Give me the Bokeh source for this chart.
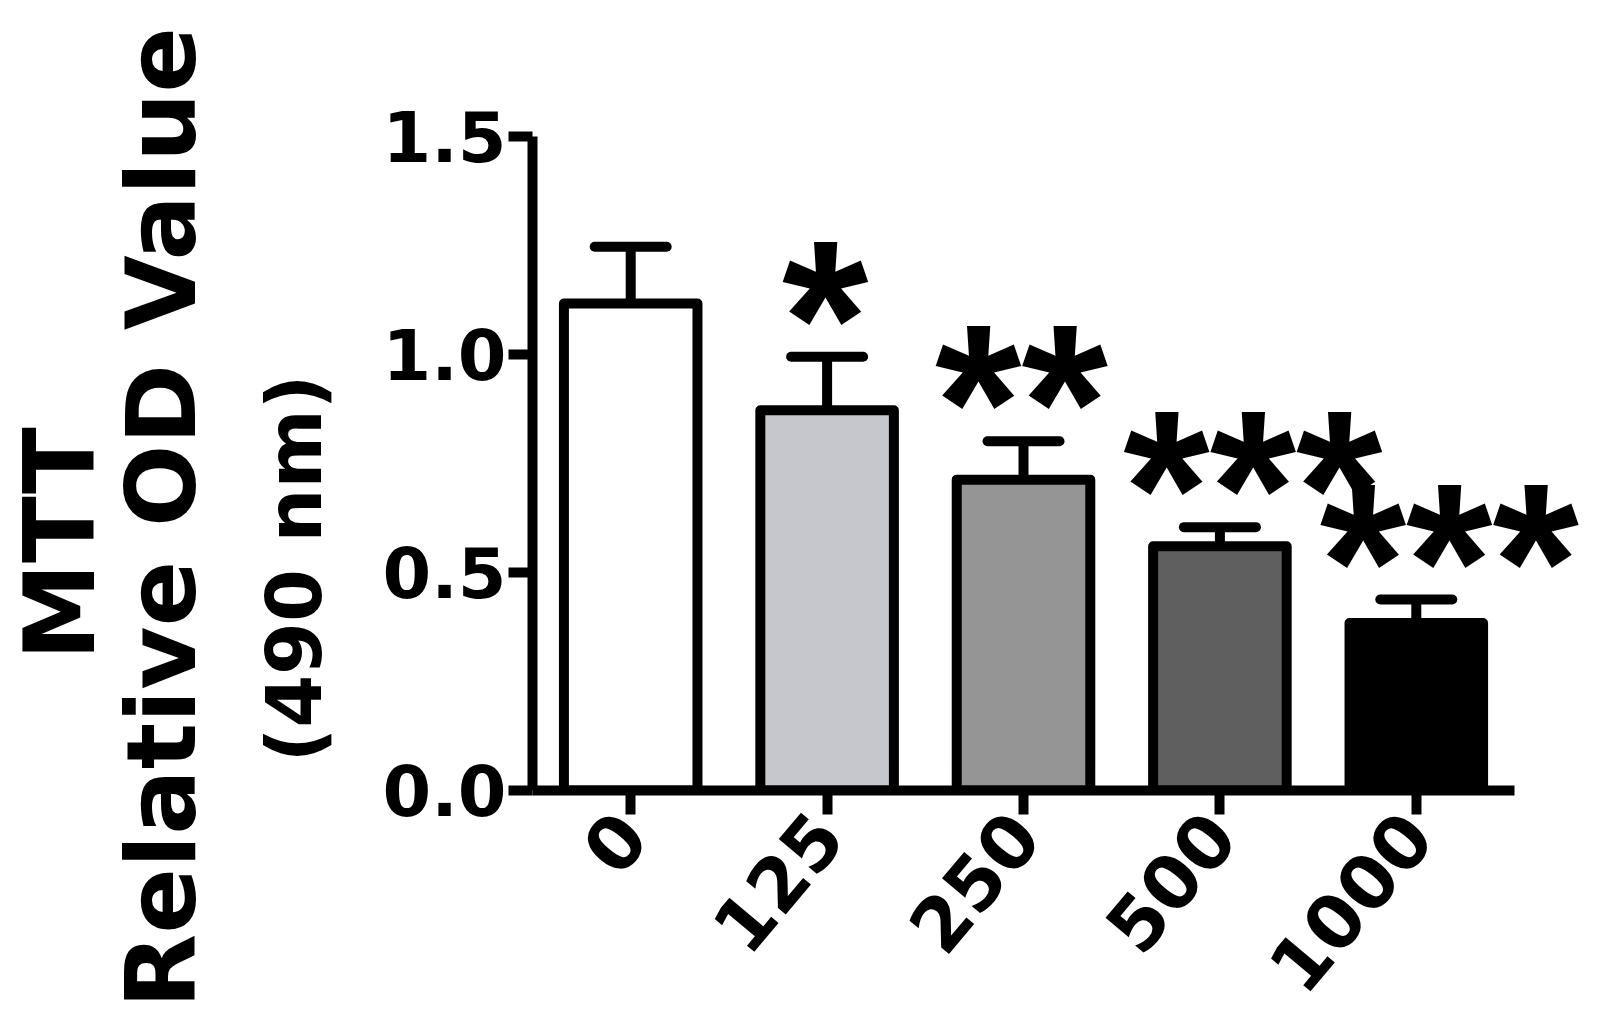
import math
from bokeh.plotting import figure
from bokeh.models import (ColumnDataSource, Range1d, FixedTicker, Title,
                          NumeralTickFormatter, Whisker, TeeHead, LabelSet)
from bokeh.core.properties import value
from bokeh.embed import file_html
from bokeh.resources import INLINE

# ---- data ----
doses = ["0", "125", "250", "500", "1000"]
od_mean = [1.117, 0.872, 0.713, 0.560, 0.384]
od_sd = [0.130, 0.123, 0.088, 0.044, 0.054]
significance = ["", "*", "**", "***", "***"]
bar_colors = ["#ffffff", "#c6c7cd", "#959595", "#5f5f5f", "#000000"]
y_ticks = [0.0, 0.5, 1.0, 1.5]
title_lines = ["MTT", "Relative OD Value", "(490 nm)"]

FONT = "DejaVu Sans"
STAR_FONT = "Liberation Sans"
LW = 10

pos = list(range(len(doses)))
upper = [m + s for m, s in zip(od_mean, od_sd)]
src = ColumnDataSource(dict(x=pos, mean=od_mean, upper=upper,
                            color=bar_colors, stars=significance))

FW, FH = 1064, 654
PX_PER_CAT = 196.4
p = figure(x_range=Range1d(-0.5, -0.5 + FW / PX_PER_CAT),
           y_range=Range1d(0, 1.5),
           frame_width=FW, frame_height=FH,
           output_backend="svg", toolbar_location=None,
           min_border_left=532, min_border_right=0,
           min_border_top=136, min_border_bottom=222)
p.outline_line_color = None
p.xgrid.visible = False
p.ygrid.visible = False
p.background_fill_color = "white"
p.border_fill_color = "white"

whisk = Whisker(source=src, base="x", lower="mean", upper="upper",
                dimension="height", line_color="black", line_width=LW,
                upper_head=TeeHead(size=72, line_color="black", line_width=LW,
                                   line_cap="round"),
                lower_head=None, level="underlay")
p.add_layout(whisk)

p.vbar(x="x", top="mean", width=0.68, source=src, fill_color="color",
       line_color="black", line_width=LW, line_join="round")

# significance stars
idx_a = [i for i, s in enumerate(significance) if 0 < len(s) < 3]
idx_b = [i for i, s in enumerate(significance) if len(s) >= 3]
for idx, dx in ((idx_a, -2), (idx_b, 33)):
    s2 = ColumnDataSource(dict(x=[pos[i] for i in idx],
                               upper=[upper[i] for i in idx],
                               stars=[significance[i] for i in idx]))
    p.add_layout(LabelSet(x="x", y="upper", text="stars", source=s2,
                          x_offset=dx, y_offset=-38,
                          text_align="center", text_baseline="alphabetic",
                          text_font=value(STAR_FONT), text_font_style="bold",
                          text_font_size=value("222px"), text_color="black"))

for ax in (p.xaxis[0], p.yaxis[0]):
    ax.axis_line_width = LW
    ax.axis_line_color = "black"
    ax.major_tick_line_width = LW
    ax.major_tick_line_color = "black"
    ax.major_tick_out = 24
    ax.major_tick_in = 0
    ax.minor_tick_line_color = None
    ax.major_label_text_font = FONT
    ax.major_label_text_font_style = "bold"
    ax.major_label_text_color = "black"

p.yaxis.ticker = FixedTicker(ticks=y_ticks)
p.yaxis.formatter = NumeralTickFormatter(format="0.0")
p.yaxis.major_label_standoff = 2
p.yaxis.major_label_text_font_size = "70px"

p.xaxis.ticker = FixedTicker(ticks=pos)
p.xaxis.major_label_overrides = {i: d for i, d in zip(pos, doses)}
p.xaxis.bounds = (-0.5, len(doses) - 0.5)
p.xaxis.major_label_orientation = math.radians(50)
p.xaxis.major_label_standoff = 8
p.xaxis.major_label_text_font_size = "74px"

# y-axis title: three stacked vertical lines in the left panel
for txt, fs, off, so in ((title_lines[2], "76px", 28, 82),
                         (title_lines[1], "97px", -218, -23),
                         (title_lines[0], "98px", 130, -5)):
    p.add_layout(Title(text=txt, align="left", offset=off, standoff=so,
                       text_font=FONT, text_font_style="bold",
                       text_font_size=fs, text_color="black"), "left")

open("out.html", "w").write(file_html(p, INLINE))
